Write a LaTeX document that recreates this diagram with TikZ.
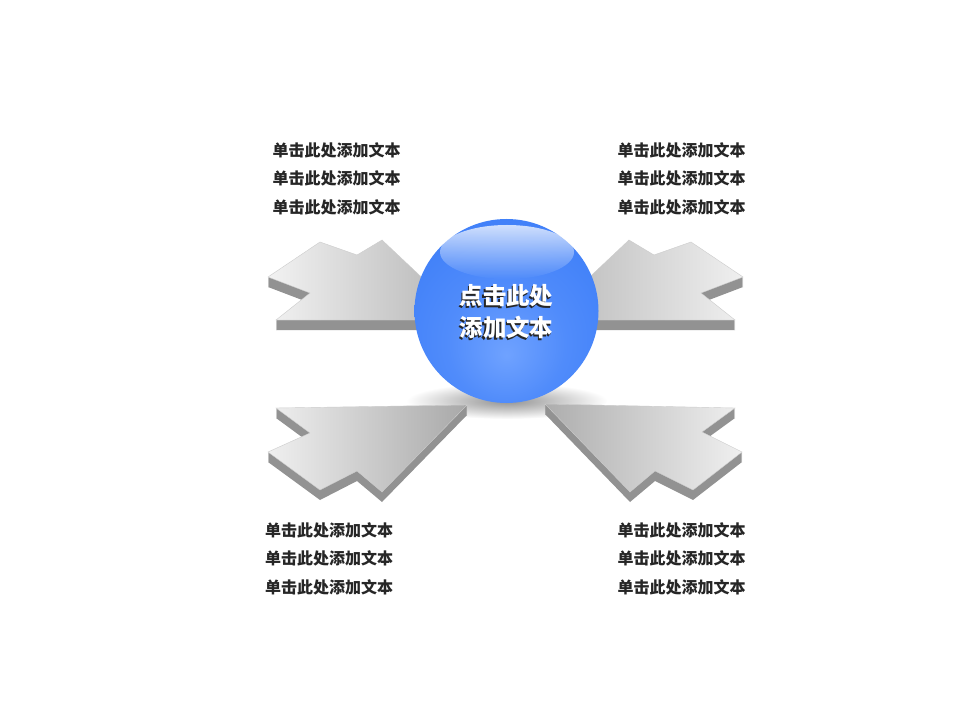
\documentclass[tikz,border=0pt]{standalone}
\usepackage{fontspec}
\newfontfamily\cjk{Noto Sans CJK SC}
\usetikzlibrary{fadings}
\definecolor{ballblue}{HTML}{2866EC}
\definecolor{ballmid}{HTML}{3C7DF8}
\definecolor{ballglow}{HTML}{6FA2FF}
\definecolor{slabside}{HTML}{929292}
\definecolor{lbltext}{HTML}{262626}
\pgfdeclareradialshading{ballshading}{\pgfpoint{0bp}{-12bp}}{color(0bp)=(ballglow);
  color(16bp)=(ballmid!60!ballglow); color(36bp)=(ballmid); color(52bp)=(ballblue);
  color(62bp)=(ballblue)}
\tikzfading[name=softshadow, inner color=transparent!15, outer color=transparent!100]
\tikzset{
  arrowside/.style={fill=slabside},
  arrowtop/.style={draw=white!80!black, line width=0.3pt},
  lbl/.style={font=\cjk\bfseries\fontsize{12}{21.4}\selectfont, text=lbltext,
    align=center, inner sep=0pt},
  balltxt/.style={font=\cjk\bfseries\fontsize{17.6}{24}\selectfont, align=center,
    inner sep=0pt}
}
\newcommand\slab[3]{%
  \foreach \d in {10,...,1}
    \fill[arrowside, yshift=-\d*0.75pt] #3 -- cycle;
  \shade[arrowtop, left color=#1, right color=#2] #3 -- cycle;}

\begin{document}
\begin{tikzpicture}[x=0.75pt, y=0.75pt]
      \useasboundingbox (0,0) rectangle (960,-720);
      \fill[white] (0,0) rectangle (960,-720);

      \fill[black, fill opacity=0.5, path fading=softshadow]
        (507,-401) ellipse (100 and 18);

      \slab{white!95!black}{white!70!black}{(268,-277) -- (320,-242) -- (357,-255)
        -- (382,-240) -- (467,-320) -- (276,-320) -- (310,-293)}
      \slab{white!72!black}{white!94!black}{(743,-277) -- (691,-242) -- (654,-255)
        -- (629,-240) -- (544,-320) -- (735,-320) -- (701,-293)}
      \slab{white!94!black}{white!66!black}{(276,-408) -- (467,-405) -- (382,-492)
        -- (357,-471) -- (320,-490) -- (268,-452) -- (310,-433)}
      \slab{white!68!black}{white!94!black}{(735,-408) -- (545,-404) -- (630,-492)
        -- (655,-471) -- (693,-490) -- (742,-452) -- (702,-432)}

      \shade[shading=ballshading] (506.5,-311) circle (92);
      \fill[white, fill opacity=0.75, path fading=south] (507,-252) ellipse (67 and 27);

      \node[balltxt, text=black!85] (ballShade) at (505.3,-313.3)
        {点击此处\\添加文本};
      \node[balltxt, text=white] (ballTxt) at (506.5,-312) {点击此处\\添加文本};

      \node[lbl] (lblTL) at (336.5,-178.5)
        {单击此处添加文本\\单击此处添加文本\\单击此处添加文本};
      \node[lbl] (lblTR) at (681.5,-178.5)
        {单击此处添加文本\\单击此处添加文本\\单击此处添加文本};
      \node[lbl] (lblBL) at (329,-558.5)
        {单击此处添加文本\\单击此处添加文本\\单击此处添加文本};
      \node[lbl] (lblBR) at (681.5,-558.5)
        {单击此处添加文本\\单击此处添加文本\\单击此处添加文本};
    \end{tikzpicture}
\end{document}
